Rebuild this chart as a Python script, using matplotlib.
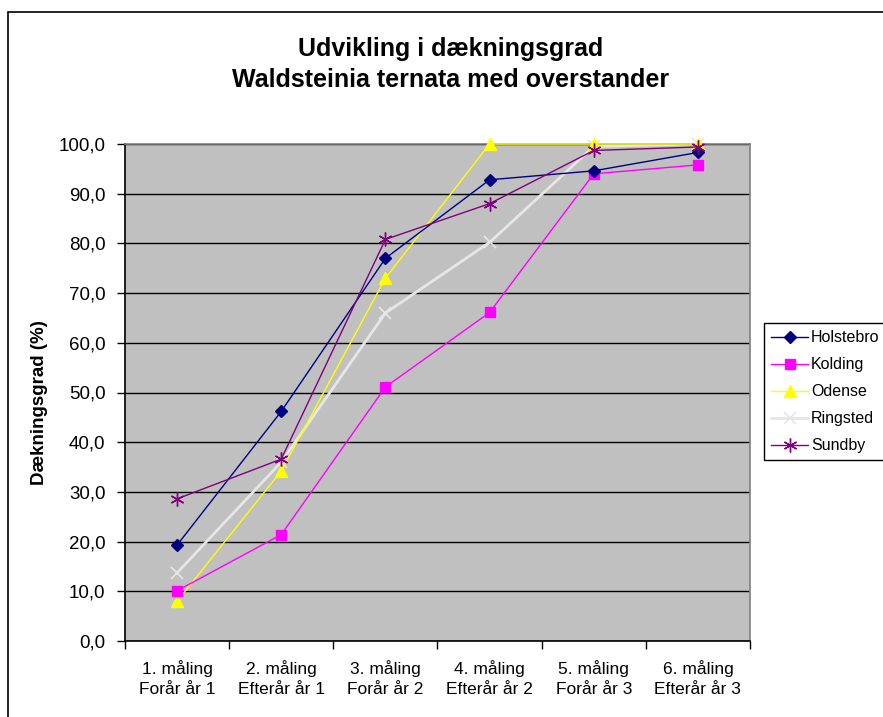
import matplotlib
matplotlib.use("Agg")
import matplotlib.pyplot as plt
from matplotlib.patches import Rectangle
from matplotlib.ticker import FixedLocator, FuncFormatter

plt.rcParams['font.family'] = ['Liberation Sans', 'DejaVu Sans']

categories = ["1. måling\nForår år 1", "2. måling\nEfterår år 1", "3. måling\nForår år 2",
              "4. måling\nEfterår år 2", "5. måling\nForår år 3", "6. måling\nEfterår år 3"]

holstebro = [19.3, 46.2, 77.0, 92.8, 94.6, 98.3]
kolding = [10.1, 21.4, 51.1, 66.1, 94.0, 95.8]
odense = [8.0, 34.2, 73.0, 100.0, 100.0, 100.0]
ringsted = [13.7, 36.0, 66.0, 80.2, 99.5, 100.0]
sundby = [28.6, 36.6, 80.8, 88.0, 98.7, 99.4]

series = [
    ("Holstebro", holstebro, dict(color="#000080", marker="D", markersize=6, lw=1.0, zorder=5)),
    ("Kolding", kolding, dict(color="#FF00FF", marker="s", markersize=7.5, lw=1.0, zorder=4)),
    ("Odense", odense, dict(color="#FFFF00", marker="^", markersize=8, lw=1.0, zorder=3)),
    ("Ringsted", ringsted, dict(color="#E6E6E6", marker="x", markersize=8, lw=2.0, mew=1.2, zorder=2)),
    ("Sundby", sundby, dict(color="#800080", marker=(6, 2, 0), markersize=10, lw=1.0, mew=1.0, zorder=6)),
]

W, H = 883, 717
fig = plt.figure(figsize=(W / 100, H / 100), dpi=100)
fig.patch.set_facecolor("white")

# outer chart frame
fig.patches.append(Rectangle((8 / W, -0.05), 1.0, 1 - 12 / H + 0.05, transform=fig.transFigure,
                             fill=False, edgecolor="black", lw=1.2))

ax = fig.add_axes([125 / W, 1 - 641 / H, 625 / W, (641 - 144) / H])
ax.set_facecolor("#C0C0C0")

x = list(range(len(categories)))
for name, vals, kw in series:
    ax.plot(x, vals, label=name, clip_on=False, **kw)

ax.set_xlim(-0.5, len(categories) - 0.5)
ax.set_ylim(0, 100)
ax.set_yticks(range(0, 101, 10))
ax.yaxis.set_major_formatter(FuncFormatter(lambda v, p: f"{v:.1f}".replace(".", ",")))
ax.grid(axis="y", color="black", lw=1.0)
ax.set_axisbelow(True)

ax.xaxis.set_major_locator(FixedLocator([i - 0.5 for i in range(len(categories) + 1)]))
ax.xaxis.set_major_formatter(FuncFormatter(lambda v, p: ""))
ax.xaxis.set_minor_locator(FixedLocator(x))
ax.set_xticklabels(categories, minor=True)
ax.tick_params(axis="x", which="minor", length=0, pad=14, labelsize=12.5)
ax.tick_params(axis="x", which="major", length=6, direction="out", width=1)
ax.tick_params(axis="y", length=6, direction="out", width=1, labelsize=13.5, pad=8)
for lab in ax.get_xticklabels(minor=True):
    lab.set_linespacing(1.4)

for side in ["top", "right"]:
    ax.spines[side].set_color("#808080")
    ax.spines[side].set_linewidth(1.2)
for side in ["left", "bottom"]:
    ax.spines[side].set_color("black")
    ax.spines[side].set_linewidth(1.2)

ax.set_ylabel("Dækningsgrad (%)", fontsize=13.5, fontweight="bold")
ax.yaxis.set_label_coords((48 - 125) / 625, 0.48)

fig.text(451 / W, 1 - 49 / H, "Udvikling i dækningsgrad", ha="center", va="center",
         fontsize=18, fontweight="bold")
fig.text(451 / W, 1 - 80 / H, "Waldsteinia ternata med overstander", ha="center", va="center",
         fontsize=18, fontweight="bold")

leg = fig.legend(loc="upper left", bbox_to_anchor=(764 / W, 1 - 323 / H), fontsize=11.5,
                 frameon=True, fancybox=False, edgecolor="black", framealpha=1,
                 handlelength=2.3, handletextpad=0.2, borderpad=0.45, labelspacing=0.75,
                 borderaxespad=0)
leg.get_frame().set_linewidth(1.0)

fig.savefig("out.png", dpi=100)
